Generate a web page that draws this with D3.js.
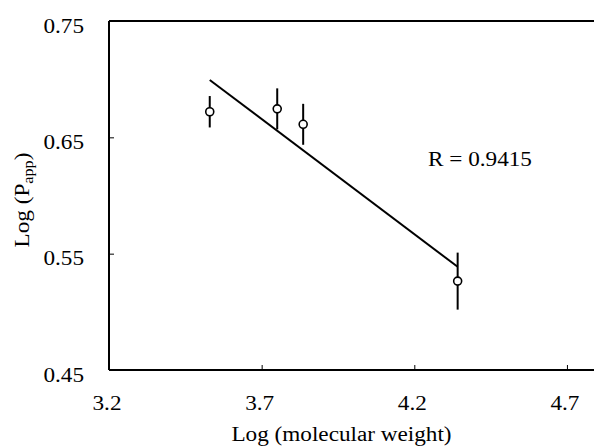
<!DOCTYPE html>
<html>
<head>
<meta charset="utf-8">
<script src="https://cdn.jsdelivr.net/npm/d3@7"></script>
<style>
  body { margin: 0; background: #fff; }
  svg { display: block; }
  text { font-family: "Liberation Serif", "Times New Roman", serif; fill: #000; }
</style>
</head>
<body>
<svg id="chart" width="594" height="446"></svg>
<script>
// ---- data ----
const logMW = [3.53, 3.751, 3.836, 4.342];
const logPapp = [0.672, 0.6745, 0.6612, 0.5264];
const errPapp = [0.0135, 0.0176, 0.0176, 0.0245];
const fitX = [3.53, 4.342];
const fitY = [0.6993, 0.5387];
const xTicks = [3.2, 3.7, 4.2, 4.7];
const yTicks = [0.45, 0.55, 0.65, 0.75];
const rLabel = "R = 0.9415";

const STRETCH = 1.16;
function stretch(sel) {
  sel.each(function () {
    const w = this.getComputedTextLength();
    d3.select(this).attr("textLength", w * STRETCH).attr("lengthAdjust", "spacingAndGlyphs");
  });
}

const svg = d3.select("#chart");
const mLeft = 109, mTop = 21, mBottom = 370;
const x = d3.scaleLinear().domain([3.2, 4.8]).range([mLeft, mLeft + 1.6 * 305.3]);
const y = d3.scaleLinear().domain([0.45, 0.75]).range([mBottom, mTop]);

const g = svg.append("g");
// bottom axis
const xAxis = d3.axisBottom(x).tickValues(xTicks).tickSize(-5).tickFormat(d3.format(".1f"));
const gx = g.append("g").attr("transform", `translate(0,${mBottom})`).call(xAxis);
gx.select(".domain").attr("stroke-width", 2).attr("d", `M${mLeft},0H594`);
gx.selectAll(".tick line").attr("stroke-width", 1);
gx.selectAll(".tick text").attr("font-size", 20).attr("font-family", "Liberation Serif")
  .attr("y", 26).attr("dy", "0.71em").attr("dx", -2.5).call(stretch);

// left axis
const yAxis = d3.axisLeft(y).tickValues(yTicks).tickSize(-5).tickFormat(d3.format(".2f"));
const gy = g.append("g").attr("transform", `translate(${mLeft},0)`).call(yAxis);
gy.select(".domain").attr("stroke-width", 2).attr("d", `M0,${mTop}V${mBottom}`);
gy.selectAll(".tick line").attr("stroke-width", 1);
gy.selectAll(".tick text").attr("font-size", 20).attr("font-family", "Liberation Serif")
  .attr("x", -25).attr("dy", "0.55em").call(stretch);

// top border
g.append("line").attr("x1", mLeft).attr("x2", 594).attr("y1", mTop).attr("y2", mTop)
  .attr("stroke", "#000").attr("stroke-width", 2);

// regression line
svg.append("line")
  .attr("x1", x(fitX[0])).attr("y1", y(fitY[0]))
  .attr("x2", x(fitX[1])).attr("y2", y(fitY[1]))
  .attr("stroke", "#000").attr("stroke-width", 2);

// error bars
svg.selectAll(".err").data(logMW).join("line")
  .attr("x1", (d) => x(d)).attr("x2", (d) => x(d))
  .attr("y1", (d, i) => y(logPapp[i] + errPapp[i]))
  .attr("y2", (d, i) => y(logPapp[i] - errPapp[i]))
  .attr("stroke", "#000").attr("stroke-width", 2);

// points
svg.selectAll(".pt").data(logMW).join("circle")
  .attr("cx", (d) => x(d)).attr("cy", (d, i) => y(logPapp[i]))
  .attr("r", 4).attr("fill", "#fff").attr("stroke", "#000").attr("stroke-width", 1.6);

// R label
svg.append("text").attr("x", 428).attr("y", 166).attr("font-size", 20).text(rLabel).call(stretch);

// axis titles
svg.append("text").attr("transform", `translate(341.5,441) scale(${STRETCH},1)`)
  .attr("text-anchor", "middle").attr("font-size", 20).text("Log (molecular weight)");

const yt = svg.append("text").attr("transform", `translate(29,200) rotate(-90) scale(${STRETCH},1)`)
  .attr("text-anchor", "middle").attr("font-size", 20);
yt.append("tspan").text("Log (P");
yt.append("tspan").attr("font-size", 14).attr("dy", 4).text("app");
yt.append("tspan").attr("dy", -4).text(")");
</script>
</body>
</html>
